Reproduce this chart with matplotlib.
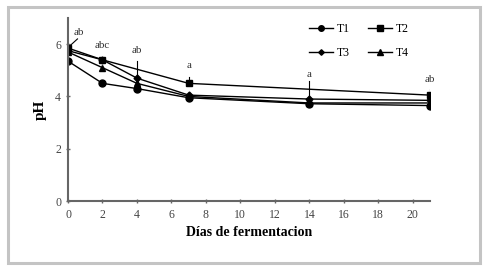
import numpy as np
from matplotlib import pyplot as plt
from matplotlib.patches import Rectangle

plt.rcParams['font.family'] = ['Liberation Serif', 'DejaVu Serif']

# pH readings per treatment (days of fermentation)
t1_days = [0, 2, 4, 7, 14, 21]
t1_ph = [5.35, 4.5, 4.3, 3.95, 3.72, 3.65]
t2_days = [0, 2, 7, 21]
t2_ph = [5.85, 5.4, 4.5, 4.05]
t3_days = [0, 2, 4, 7, 14, 21]
t3_ph = [5.75, 5.4, 4.7, 4.05, 3.9, 3.85]
t4_days = [0, 2, 4, 7, 14, 21]
t4_ph = [5.7, 5.1, 4.5, 4.0, 3.75, 3.75]

letters = ['ab', 'abc', 'ab', 'a', 'a', 'ab']
letter_days = [0.6, 2, 4, 7, 14, 21]
letter_ph = [6.45, 5.95, 5.75, 5.2, 4.85, 4.65]

fig = plt.figure(figsize=(4.93, 2.70), dpi=100)
fig.patches.append(Rectangle((8/493, 7/270), 472/493, 256/270, transform=fig.transFigure,
                             fill=False, edgecolor='#c4c4c4', linewidth=2.2))
ax = fig.add_axes([68/493, (270-201)/270, 362/493, 183/270])

l1, = ax.plot(t1_days, t1_ph, color='black', marker='o', ms=5, lw=1, label='T1')
l2, = ax.plot(t2_days, t2_ph, color='black', marker='s', ms=5, lw=1, label='T2')
l3, = ax.plot(t3_days, t3_ph, color='black', marker='D', ms=3.5, lw=1, label='T3')
l4, = ax.plot(t4_days, t4_ph, color='black', marker='^', ms=5, lw=1, label='T4')

# error / pointer lines
ax.plot([0.55, 0.05], [6.2, 5.9], color='black', lw=0.8)
ax.plot([4, 4], [5.35, 4.3], color='black', lw=0.8)
ax.plot([7, 7], [4.75, 4.5], color='black', lw=0.8)
ax.plot([14, 14], [4.6, 3.75], color='black', lw=0.8)
ax.plot([21, 21], [4.3, 3.65], color='black', lw=0.8)

for d, p, s in zip(letter_days, letter_ph, letters):
    ax.text(d, p, s, ha='center', va='center', fontsize=8, color='#333333')

ax.set_xlim(0, 21)
ax.set_ylim(0, 7)
ax.set_xticks(np.arange(0, 21, 2))
ax.set_yticks([0, 2, 4, 6])
ax.tick_params(labelsize=8.5, labelcolor='#444444', color='#666666', length=3, direction='inout', width=1)
ax.tick_params(axis='x', pad=4)
for s in ['top', 'right']:
    ax.spines[s].set_visible(False)
for s in ['left', 'bottom']:
    ax.spines[s].set_color('#666666')
    ax.spines[s].set_linewidth(1.5)
ax.set_xlabel('Días de fermentacion', fontsize=10, fontweight='bold', labelpad=4)
ax.set_ylabel('pH', fontsize=11, fontweight='bold', labelpad=6)

ax.legend([l1, l3, l2, l4], ['T1', 'T3', 'T2', 'T4'], ncol=2, loc='upper right',
          bbox_to_anchor=(0.97, 1.03), frameon=False, fontsize=8.5, markerscale=0.8,
          handlelength=2.0, columnspacing=1.6, labelspacing=1.0, handletextpad=0.3)

plt.savefig('out.png', dpi=100)
